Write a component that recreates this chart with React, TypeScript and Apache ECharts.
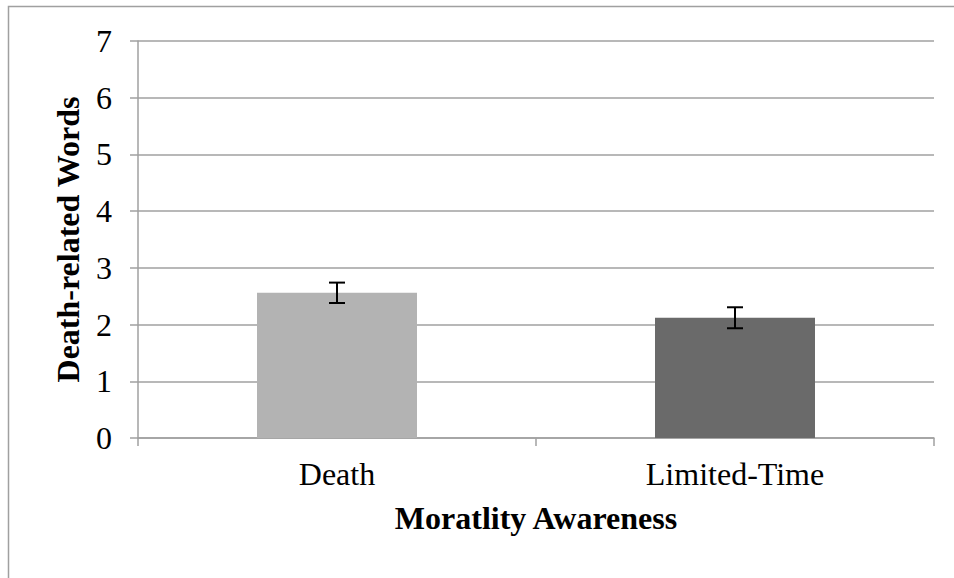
import React, { useEffect, useRef } from "react";
import * as echarts from "echarts";

const categories = ["Death", "Limited-Time"];
const means = [2.56, 2.12];
const errors = [0.18, 0.185];
const barColors = ["#b3b3b3", "#6a6a6a"];
const yTicks = { min: 0, max: 7, interval: 1 };

const FONT = "'Liberation Serif', 'Times New Roman', serif";

export default function App() {
  const ref = useRef<HTMLDivElement>(null);
  useEffect(() => {
    document.body.style.margin = "0";
    const chart = echarts.init(ref.current!, null, { renderer: "svg" });
    const errData = means.map((m, i) => [i, m - errors[i], m + errors[i]]);
    chart.setOption({
      animation: false,
      textStyle: { fontFamily: FONT },
      graphic: [
        {
          type: "rect",
          shape: { x: 8.5, y: 6.5, width: 1000, height: 1000 },
          style: { fill: "none", stroke: "#a0a0a0", lineWidth: 1.5 },
          silent: true,
        },
      ],
      grid: { left: 138, right: 20, top: 41, bottom: 140 },
      xAxis: {
        type: "category",
        data: categories,
        axisLine: { lineStyle: { color: "#a0a0a0", width: 1.5 } },
        axisTick: { show: true, length: 8, lineStyle: { color: "#a0a0a0", width: 1.5 } },
        axisLabel: { color: "#000", fontSize: 32, margin: 20, fontFamily: FONT },
        name: "Moratlity Awareness",
        nameLocation: "middle",
        nameGap: 64,
        nameTextStyle: { color: "#000", fontSize: 32, fontWeight: "bold", fontFamily: FONT },
      },
      yAxis: {
        type: "value",
        min: yTicks.min,
        max: yTicks.max,
        interval: yTicks.interval,
        axisLine: { show: true, lineStyle: { color: "#a0a0a0", width: 1.5 } },
        axisTick: { show: true, length: 8, lineStyle: { color: "#a0a0a0", width: 1.5 } },
        splitLine: { show: true, lineStyle: { color: "#a0a0a0", width: 1.5 } },
        axisLabel: { color: "#000", fontSize: 32, margin: 26, fontFamily: FONT },
        name: "Death-related Words",
        nameLocation: "middle",
        nameGap: 54,
        nameRotate: 90,
        nameTextStyle: { color: "#000", fontSize: 32, fontWeight: "bold", fontFamily: FONT },
      },
      series: [
        {
          type: "bar",
          barWidth: 160,
          data: means.map((v, i) => ({ value: v, itemStyle: { color: barColors[i] } })),
        },
        {
          type: "custom",
          data: errData,
          z: 10,
          renderItem: (params: any, api: any) => {
            const x = api.value(0);
            const lo = api.coord([x, api.value(1)]);
            const hi = api.coord([x, api.value(2)]);
            const hw = 8;
            const st = { stroke: "#000", lineWidth: 2 };
            return {
              type: "group",
              children: [
                { type: "line", shape: { x1: lo[0], y1: lo[1], x2: hi[0], y2: hi[1] }, style: st },
                { type: "line", shape: { x1: lo[0] - hw, y1: lo[1], x2: lo[0] + hw, y2: lo[1] }, style: st },
                { type: "line", shape: { x1: hi[0] - hw, y1: hi[1], x2: hi[0] + hw, y2: hi[1] }, style: st },
              ],
            };
          },
        },
      ],
    });
    return () => chart.dispose();
  }, []);
  return <div ref={ref} style={{ width: 954, height: 578 }} />;
}
